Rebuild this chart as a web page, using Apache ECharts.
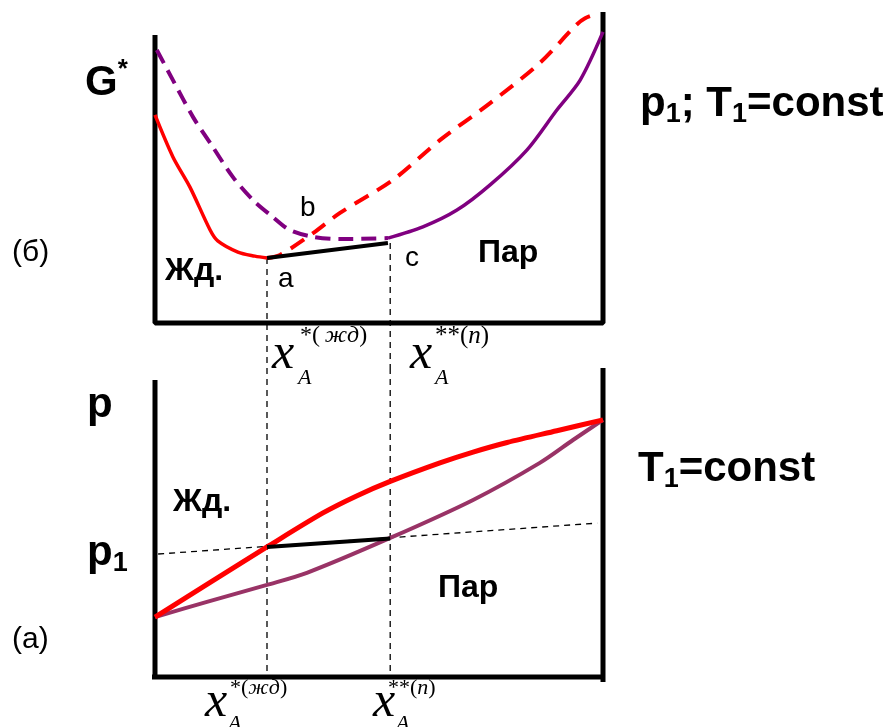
<!DOCTYPE html>
<html>
<head>
<meta charset="utf-8">
<script src="https://cdn.jsdelivr.net/npm/echarts@6/dist/echarts.min.js"></script>
<style>html,body{margin:0;padding:0;background:#fff}#c{width:891px;height:727px}</style>
</head>
<body>
<div id="c"></div>
<script>
// ---- data (x = mole fraction of A, 0..1; y in arbitrary units 0..100) ----
var xLiq = 0.25, xVap = 0.525;

// Panel (б): Gibbs energy curves
var gLiqSolid  = [[0,66.9],[0.040,53.4],[0.078,43.7],[0.123,29.9],[0.140,26.4],[0.185,22.8],[0.223,21.5],[0.25,20.9]];
var gLiqDashed = [[0.25,20.9],[0.279,21.9],[0.353,28.9],[0.413,35.4],[0.531,46.0],[0.636,58.8],[0.748,70.7],[0.859,83.6],[0.940,95.8],[0.960,98.0],[0.987,99.4]];
var gVapDashed = [[0.004,87.8],[0.040,78.1],[0.085,66.2],[0.129,56.6],[0.174,46.9],[0.219,39.5],[0.263,34.1],[0.301,29.9],[0.353,27.7],[0.413,27.0],[0.52,27.3]];
var gVapSolid  = [[0.52,27.3],[0.598,30.9],[0.674,36.3],[0.748,44.4],[0.830,55.6],[0.897,68.5],[0.949,78.1],[1.0,93.6]];
var gTie       = [[0.25,20.9],[0.52,25.7]];
var gFrame     = [[0,92.6],[0,0],[1,0],[1,100]];
var gDropLiq   = [[xLiq,20.9],[xLiq,-14.5]];
var gDropVap   = [[xVap,25.7],[xVap,-14.5]];

// Panel (a): pressure vs composition
var pLiquid = [[0,19.4],[0.125,30.8],[0.25,42.1],[0.375,53.1],[0.45,58.6],[0.525,63.3],[0.636,69.3],[0.71,72.8],[0.786,75.9],[0.897,79.7],[1,83.2]];
var pVapour = [[0,19.4],[0.116,24.3],[0.25,29.8],[0.339,33.7],[0.525,45.0],[0.71,57.3],[0.859,69.3],[0.933,76.7],[1,83.2]];
var pTie    = [[0.25,42.1],[0.525,44.8]];
var pIsobar = [[0.007,39.8],[0.987,49.8]];
var pFrameL = [[0,96.1],[0,0]];
var pFrameB = [[-0.034,0],[1,0]];
var pFrameR = [[1,100],[1,-1.6]];
var pDropLiq = [[xLiq,100],[xLiq,0]];
var pDropVap = [[xVap,100],[xVap,0]];

var RED = '#ff0000', PURPLE = '#800080', PURPLE2 = '#993366';

function ln(data, g, color, width, type, smooth) {
  return {
    type: 'line', data: data, xAxisIndex: g, yAxisIndex: g,
    symbol: 'none', smooth: smooth || false, clip: false, silent: true,
    lineStyle: { color: color, width: width, type: type || 'solid', cap: 'butt' },
    z: width > 2 ? 3 : 2
  };
}

var axisHidden = { axisLine:{show:false}, axisTick:{show:false}, axisLabel:{show:false}, splitLine:{show:false} };

var SANS = '"Liberation Sans", Arial, sans-serif';
var SERIF = '"Liberation Serif", "Times New Roman", serif';

function txt(x, y, text, rich, font) {
  return { type:'text', x:x, y:y, z:100,
    style:{ text:text, rich:rich, font:font, fill:'#000', textAlign:'left', textVerticalAlign:'middle' } };
}

var bigRich = {
  b:{ fontFamily:SANS, fontWeight:'bold', fontSize:42, color:'#000' },
  s:{ fontFamily:SANS, fontWeight:'bold', fontSize:27, color:'#000', padding:[22,0,0,0] },
  u:{ fontFamily:SANS, fontWeight:'bold', fontSize:26, color:'#000', padding:[0,0,26,0] }
};
function supRich(size) {
  return {
    u:{ fontFamily:SERIF, fontSize:size, color:'#000' },
    i:{ fontFamily:SERIF, fontStyle:'italic', fontSize:size, color:'#000' }
  };
}
var xFont = 'italic 50px ' + SERIF;
var aFont = 'italic 22px ' + SERIF;

function xLabel(xx, y, supX, supDy, supText, supSize, aX, aDy) {
  return [
    txt(xx, y, 'x', null, xFont),
    txt(supX, y + supDy, supText, supRich(supSize), supSize + 'px ' + SERIF),
    txt(aX, y + aDy, 'A', null, aFont)
  ];
}

var graphics = [
  txt(85, 83, '{b|G}{u|*}', bigRich),
  txt(12, 253, '(б)', null, '30px ' + SANS),
  txt(640, 104, '{b|p}{s|1}{b|; T}{s|1}{b|=const}', bigRich),
  txt(87, 405, '{b|p}', bigRich),
  txt(87, 553, '{b|p}{s|1}', bigRich),
  txt(12, 640, '(a)', null, '30px ' + SANS),
  txt(638, 469, '{b|T}{s|1}{b|=const}', bigRich),
  txt(165, 271, 'Жд.', null, 'bold 32px ' + SANS),
  txt(478, 253, 'Пар', null, 'bold 32px ' + SANS),
  txt(173, 502, 'Жд.', null, 'bold 32px ' + SANS),
  txt(438, 588, 'Пар', null, 'bold 32px ' + SANS),
  txt(278, 279, 'a', null, '28px ' + SANS),
  txt(300, 208, 'b', null, '28px ' + SANS),
  txt(405, 258, 'c', null, '28px ' + SANS)
].concat(
  xLabel(272, 355, 300, -19, '{u|*(\u2009}{i|жд}{u|)}', 24, 298, 23),
  xLabel(410, 355, 435, -19, '{u|**(}{i|n}{u|)}', 25, 435, 23),
  xLabel(205, 703, 230, -15, '{u|*(}{i|жд}{u|)}', 22, 228, 21),
  xLabel(373, 703, 388, -15, '{u|**(}{i|n}{u|)}', 22, 396, 21)
);

var chart = echarts.init(document.getElementById('c'), null, { renderer: 'canvas' });
chart.setOption({
  animation: false,
  backgroundColor: '#fff',
  grid: [
    { left: 155, top: 12, width: 448, height: 311 },
    { left: 155, top: 368, width: 448, height: 309 }
  ],
  xAxis: [
    Object.assign({ type:'value', gridIndex:0, min:0, max:1 }, axisHidden),
    Object.assign({ type:'value', gridIndex:1, min:0, max:1 }, axisHidden)
  ],
  yAxis: [
    Object.assign({ type:'value', gridIndex:0, min:0, max:100 }, axisHidden),
    Object.assign({ type:'value', gridIndex:1, min:0, max:100 }, axisHidden)
  ],
  series: [
    // panel (б)
    ln(gFrame, 0, '#000', 5),
    ln(gDropLiq, 0, '#000', 1.3, [6,5]),
    ln(gDropVap, 0, '#000', 1.3, [6,5]),
    ln(gVapDashed, 0, PURPLE, 4, [15,8], 0.3),
    ln(gVapSolid, 0, PURPLE, 3.5, 'solid', 0.3),
    ln(gLiqDashed, 0, RED, 4, [16,10], 0.3),
    ln(gLiqSolid, 0, RED, 3.5, 'solid', 0.3),
    ln(gTie, 0, '#000', 4),
    // panel (a)
    ln(pFrameL, 1, '#000', 5),
    ln(pFrameB, 1, '#000', 5),
    ln(pFrameR, 1, '#000', 5),
    ln(pDropLiq, 1, '#000', 1.3, [6,5]),
    ln(pDropVap, 1, '#000', 1.3, [6,5]),
    ln(pIsobar, 1, '#000', 1.3, [6,5]),
    ln(pVapour, 1, PURPLE2, 4, 'solid', 0.3),
    ln(pLiquid, 1, RED, 5, 'solid', 0.3),
    ln(pTie, 1, '#000', 4)
  ],
  graphic: graphics
});
</script>
</body>
</html>
